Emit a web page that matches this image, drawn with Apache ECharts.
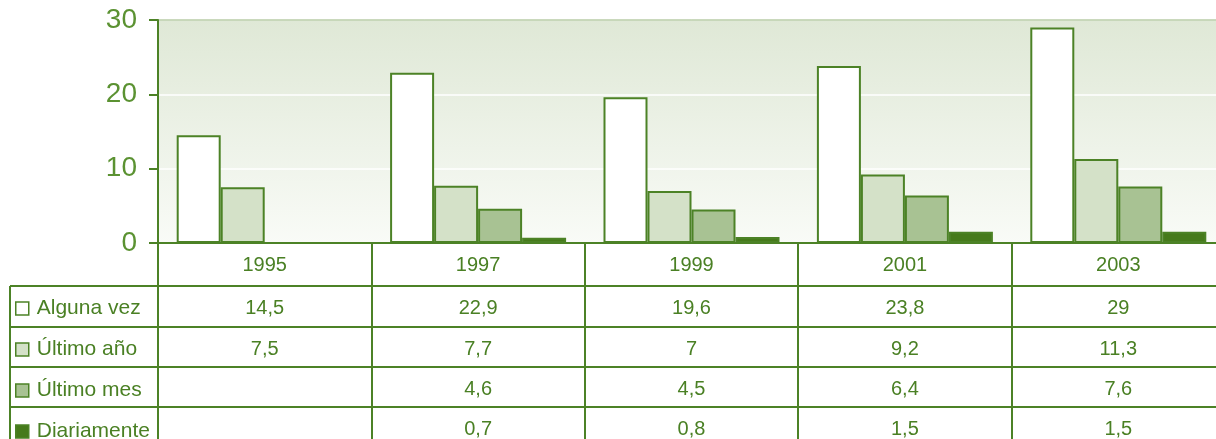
<!DOCTYPE html>
<html>
<head>
<meta charset="utf-8">
<script src="https://cdn.jsdelivr.net/npm/echarts@6/dist/echarts.min.js"></script>
<style>
  html, body { margin: 0; padding: 0; overflow: hidden; background: #fff; }
  #chart { width: 1226px; height: 500px; }
</style>
</head>
<body>
<div id="chart"></div>
<script>
// datos
var years = ['1995', '1997', '1999', '2001', '2003'];
var seriesNames = ['Alguna vez', 'Último año', 'Último mes', 'Diariamente'];
var algunaVez = [14.5, 22.9, 19.6, 23.8, 29];
var ultimoAno = [7.5, 7.7, 7, 9.2, 11.3];
var ultimoMes = [null, 4.6, 4.5, 6.4, 7.6];
var diariamente = [null, 0.7, 0.8, 1.5, 1.5];
var yTicks = [0, 10, 20, 30];

var values = [algunaVez, ultimoAno, ultimoMes, diariamente];
var fills = ['#ffffff', '#d4e1c8', '#a8c293', '#467a1b'];
var green = '#4c8226';
var textGreen = '#4a8024';

// el lienzo es más alto que la ventana; la parte de abajo queda fuera
var H = 500;
var gridLeft = 158, gridTop = 20, axisY = 243;
var rowOffsets = [43, 84, 124, 164];

function fmt(v) {
  return v == null ? '' : String(v).replace('.', ',');
}

var myChart = echarts.init(document.getElementById('chart'));

var xAxes = [{
  type: 'category',
  data: years,
  position: 'bottom',
  axisLine: { lineStyle: { color: green, width: 2 } },
  axisTick: { show: true, interval: 0, length: H - axisY, lineStyle: { color: green, width: 2 } },
  axisLabel: { color: textGreen, fontSize: 20, margin: 12 }
}];
values.forEach(function (arr, i) {
  xAxes.push({
    type: 'category',
    data: arr.map(fmt),
    position: 'bottom',
    offset: rowOffsets[i],
    axisLine: { show: true, lineStyle: { color: green, width: 2 } },
    axisTick: { show: false },
    axisLabel: { color: textGreen, fontSize: 20, margin: 12, interval: 0 }
  });
});

// líneas de la columna de etiquetas
var tableTop = axisY + rowOffsets[0];
var graphics = [{
  type: 'line',
  shape: { x1: 10, y1: tableTop, x2: 10, y2: H },
  style: { stroke: green, lineWidth: 2 }
}];
rowOffsets.forEach(function (off) {
  graphics.push({
    type: 'line',
    shape: { x1: 10, y1: axisY + off, x2: gridLeft, y2: axisY + off },
    style: { stroke: green, lineWidth: 2 }
  });
});

var option = {
  animation: false,
  textStyle: { fontFamily: 'Liberation Sans, Arial, sans-serif' },
  grid: {
    left: gridLeft, top: gridTop, bottom: H - axisY, width: 1067,
    show: true,
    borderColor: '#c3d5b4',
    borderWidth: 1,
    backgroundColor: new echarts.graphic.LinearGradient(0, 0, 0, 1, [
      { offset: 0, color: '#dfe8d6' },
      { offset: 1, color: '#f9fbf7' }
    ])
  },
  legend: {
    orient: 'vertical',
    left: 15,
    top: 298,
    padding: 0,
    itemGap: 20,
    itemWidth: 13,
    itemHeight: 13,
    icon: 'rect',
    itemStyle: { borderWidth: 1.5, borderColor: green },
    textStyle: { color: textGreen, fontSize: 21, lineHeight: 20, padding: [0, 0, 0, 3] },
    data: seriesNames
  },
  xAxis: xAxes,
  yAxis: {
    type: 'value',
    min: yTicks[0],
    max: yTicks[yTicks.length - 1],
    interval: 10,
    axisLine: { show: true, lineStyle: { color: green, width: 2 } },
    axisTick: { show: true, length: 9, lineStyle: { color: green, width: 2 } },
    axisLabel: { color: '#5b9232', fontSize: 28, margin: 21, padding: [4, 0, 0, 0] },
    splitLine: { lineStyle: { color: ['#ffffff', '#ffffff', '#ffffff', '#c3d5b4'], width: 1.5 } }
  },
  graphic: graphics,
  series: values.map(function (arr, i) {
    return {
      name: seriesNames[i],
      type: 'bar',
      data: arr,
      barWidth: 44,
      barGap: '0%',
      itemStyle: { color: fills[i], borderColor: green, borderWidth: 2 }
    };
  })
};

myChart.setOption(option);
</script>
</body>
</html>
